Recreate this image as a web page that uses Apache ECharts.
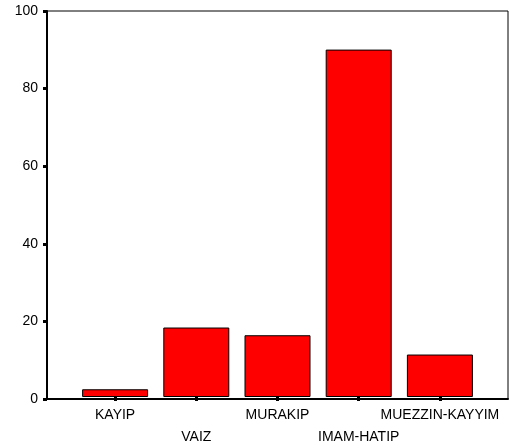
<!DOCTYPE html>
<html><head><meta charset="utf-8">
<script src="https://cdn.jsdelivr.net/npm/echarts@6/dist/echarts.min.js"></script>
<style>html,body{margin:0;padding:0;background:#fff}#c{width:510px;height:448px}</style>
</head><body><div id="c"></div>
<script>
var categories = ['KAYIP', 'VAIZ', 'MURAKIP', 'IMAM-HATIP', 'MUEZZIN-KAYYIM'];
var values = [2, 18, 16, 90, 11];
var yTicks = [0, 20, 40, 60, 80, 100];

var chart = echarts.init(document.getElementById('c'));
var font = 'Liberation Sans, Arial, sans-serif';
chart.setOption({
  animation: false,
  backgroundColor: '#fff',
  grid: [
    {left: 47, right: 2, top: 11, bottom: 49, show: true, borderColor: '#000', borderWidth: 1, backgroundColor: 'transparent', z: 5},
    {left: 74.5, right: 29.5, top: 11, bottom: 49}
  ],
  xAxis: [
    {gridIndex: 0, type: 'value', min: 0, max: 1, z: 10, axisLine: {show: true, onZero: false, lineStyle: {color: '#000', width: 2}}, axisTick: {show: false}, axisLabel: {show: false}, splitLine: {show: false}},
    {gridIndex: 1, type: 'category', data: categories, z: 10, axisLine: {show: false, onZero: false}, axisTick: {show: true, inside: false, alignWithLabel: true, length: 4, lineStyle: {color: '#000', width: 3}},
     axisLabel: {interval: 0, margin: 7, color: '#000', fontFamily: font, fontSize: 14, lineHeight: 22,
       formatter: function (v, i) { return i % 2 === 1 ? '\n' + v : v; }}}
  ],
  yAxis: [
    {gridIndex: 0, type: 'value', min: 0, max: 100, interval: 20, z: 10,
     axisLine: {show: true, lineStyle: {color: '#000', width: 2}}, axisTick: {show: true, length: 4, lineStyle: {color: '#000', width: 3}},
     axisLabel: {color: '#000', fontFamily: font, fontSize: 14, margin: 9,
       formatter: function (v) { return yTicks.indexOf(v) >= 0 ? String(v) : ''; }},
     splitLine: {show: false}},
    {gridIndex: 1, type: 'value', min: 0, max: 100, show: false, splitLine: {show: false}}
  ],
  series: [{
    type: 'bar', xAxisIndex: 1, yAxisIndex: 1, data: values, barWidth: 66, z: 2,
    itemStyle: {color: '#ff0000', borderColor: '#000', borderWidth: 1}
  }]
});
</script></body></html>
